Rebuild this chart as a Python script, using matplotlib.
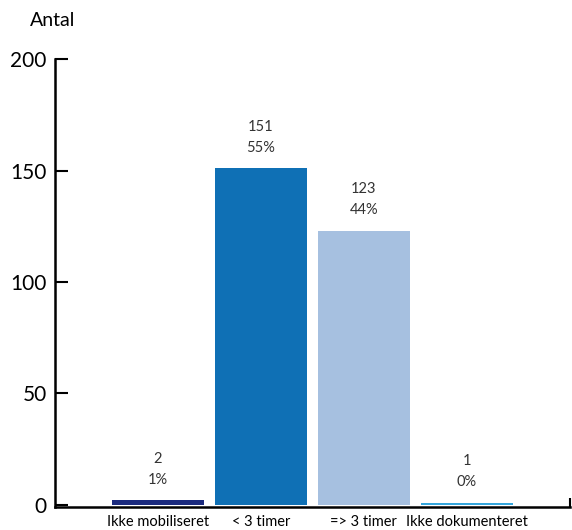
import numpy as np
import matplotlib.pyplot as plt

plt.rcParams['font.family'] = ['Lato', 'DejaVu Sans']

categories = ['Ikke mobiliseret', '< 3 timer', '=> 3 timer', 'Ikke dokumenteret']
counts = [2, 151, 123, 1]
percents = ['1%', '55%', '44%', '0%']
colors = ['#1b2a7e', '#0f70b5', '#a6c0e0', '#34a6dd']

fig = plt.figure(figsize=(5.72, 5.30), dpi=100)
ax = fig.add_axes([0.0962, 0.0434, 0.900, 0.845])

x = np.arange(len(categories))
ax.bar(x, counts, width=0.9, color=colors, zorder=3)

# count and share above each bar
for xi, c, p in zip(x, counts, percents):
    ax.text(xi, c + 6, f'{c}\n{p}', ha='center', va='bottom',
            fontsize=10.5, color='#333333', linespacing=1.65)

ax.set_xlim(-1, 4)
ax.set_ylim(-1, 200)
ax.set_yticks([0, 50, 100, 150, 200])
ax.set_xticks(x)
ax.set_xticklabels(categories, fontsize=10.5)
ax.tick_params(axis='y', direction='in', length=9.5, width=1.5, labelsize=15, pad=6)
ax.tick_params(axis='x', length=0, pad=6)

ax.spines['top'].set_visible(False)
ax.spines['right'].set_visible(False)
ax.spines['left'].set_linewidth(1.8)
ax.spines['bottom'].set_linewidth(1.8)

# short closing tick at the right end of the baseline
ax.plot([4, 4], [-1, 3], color='black', lw=1.5, clip_on=False, solid_capstyle='butt')

fig.text(30 / 572, 1 - 20 / 530, 'Antal', fontsize=14, va='center', ha='left')

fig.savefig('out.png', dpi=100)
